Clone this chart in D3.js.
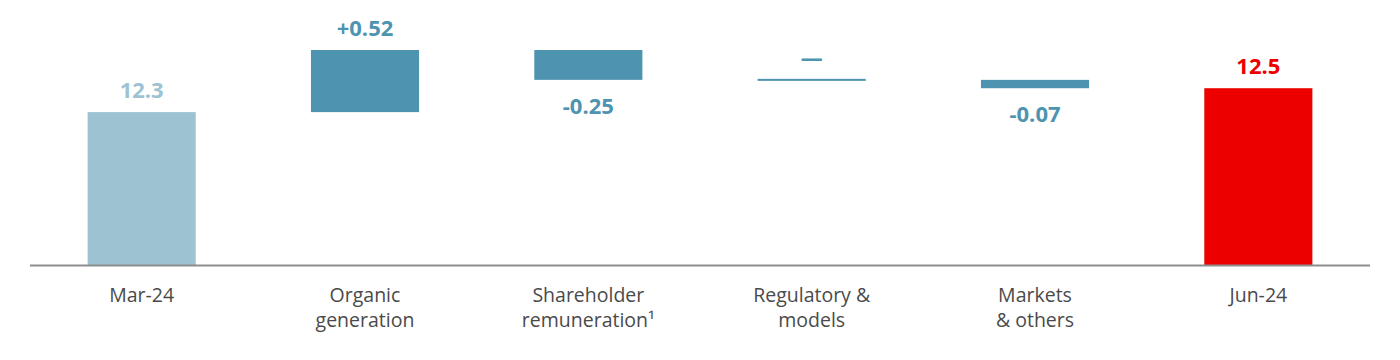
<!DOCTYPE html>
<html lang="en">
<head>
	<meta charset="utf-8"/>
	<title>CET1 waterfall</title>
	<script src="https://d3js.org/d3.v7.min.js"></script>
	<style>
		body { margin: 0; background: #fff; }
		text { font-family: "Open Sans", "Noto Sans", sans-serif; }
		.cat { fill: #4a4a4a; font-size: 19.5px; }
		.val { font-size: 22px; font-weight: bold; }
	</style>
</head>
<body>
<div id="chart"></div>
<script>
	// data
	var categories = ["Mar-24", "Organic generation", "Shareholder remuneration¹", "Regulatory & models", "Markets & others", "Jun-24"];
	var catLines = [["Mar-24"], ["Organic", "generation"], ["Shareholder", "remuneration¹"], ["Regulatory &", "models"], ["Markets", "& others"], ["Jun-24"]];
	var values = [12.3, 0.52, -0.25, 0, -0.07, 12.5];
	var kinds = ["total", "delta", "delta", "delta", "delta", "total"];
	var valueLabels = ["12.3", "+0.52", "-0.25", "\u2014", "-0.07", "12.5"];

	var width = 1400, height = 360;
	var m = {left: 30, right: 30, base: 265};
	var yMin = 11.02, yMax = 12.82;

	var svg = d3.select("#chart").append("svg")
		.attr("width", width)
		.attr("height", height);

	// running totals for the waterfall
	var run = 0;
	var steps = values.map(function(v, i) {
		var s;
		if (kinds[i] == "total") { s = {from: yMin, to: v}; run = v; }
		else { s = {from: run, to: run + v}; run = run + v; }
		s.i = i; s.v = v; s.kind = kinds[i];
		return s;
	});

	var x = d3.scaleBand()
		.domain(categories)
		.range([m.left, width - m.right])
		.paddingInner(0.516)
		.paddingOuter(0.258);

	var y = d3.scaleLinear()
		.domain([yMin, yMax])
		.range([m.base, 50]);

	var colors = {total0: "#9dc3d3", delta: "#4e93b0", total1: "#ec0000"};
	function col(d) {
		if (d.kind == "delta") return colors.delta;
		return d.i == 0 ? colors.total0 : colors.total1;
	}

	svg.append("g").selectAll("rect")
		.data(steps)
		.enter().append("rect")
			.attr("x", function(d) { return x(categories[d.i]); })
			.attr("width", x.bandwidth())
			.attr("y", function(d) {
				var t = Math.min(y(d.from), y(d.to));
				return d.v == 0 ? t - 1 : t;
			})
			.attr("height", function(d) { return Math.max(2, Math.abs(y(d.from) - y(d.to))); })
			.attr("fill", col);

	// axis line
	svg.append("line")
		.attr("x1", m.left).attr("x2", width - m.right)
		.attr("y1", m.base + 0.5).attr("y2", m.base + 0.5)
		.attr("stroke", "#8e8e8e")
		.attr("stroke-width", 2);

	// value labels
	svg.append("g").selectAll("text")
		.data(steps)
		.enter().append("text")
			.attr("class", "val")
			.attr("text-anchor", "middle")
			.attr("x", function(d) { return x(categories[d.i]) + x.bandwidth() / 2; })
			.attr("y", function(d) {
				if (d.v < 0) return Math.max(y(d.from), y(d.to)) + 34;
				if (d.v == 0) return y(d.to) - 14;
				return Math.min(y(d.from), y(d.to)) - 14;
			})
			.attr("fill", col)
			.text(function(d) { return valueLabels[d.i]; });

	// category labels
	var cats = svg.append("g").selectAll("text")
		.data(catLines)
		.enter().append("text")
			.attr("class", "cat")
			.attr("text-anchor", "middle")
			.attr("x", function(d, i) { return x(categories[i]) + x.bandwidth() / 2; })
			.attr("y", 302);

	cats.selectAll("tspan")
		.data(function(d) { return d; })
		.enter().append("tspan")
			.attr("x", function() { return d3.select(this.parentNode).attr("x"); })
			.attr("dy", function(d, j) { return j == 0 ? 0 : 25; })
			.text(function(d) { return d; });
</script>
</body>
</html>
